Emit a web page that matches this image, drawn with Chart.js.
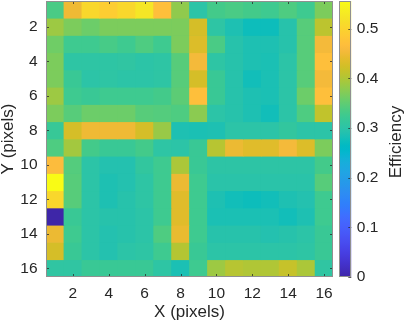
<!DOCTYPE html>
<html><head><meta charset="utf-8">
<script src="https://cdn.jsdelivr.net/npm/chart.js@4/dist/chart.umd.min.js"></script>
<style>
html,body{margin:0;padding:0;background:#fff;}
#wrap{position:relative;width:407px;height:324px;overflow:hidden;}
#main{position:absolute;left:0;top:0;}
#cbar{position:absolute;left:334px;top:0;}
</style></head><body>
<div id="wrap"><canvas id="main" width="407" height="324"></canvas><canvas id="cbar" width="73" height="324"></canvas></div>
<script>
// ---- data ----
const xLabels = ['1','2','3','4','5','6','7','8','9','10','11','12','13','14','15','16'];
const xTicks = [2,4,6,8,10,12,14,16];
const yTicks = [2,4,6,8,10,12,14,16];
const cbTicks = [0,0.1,0.2,0.3,0.4,0.5];
const cMin = 0, cMax = 0.556;

const row01 = [0.335,0.450,0.505,0.490,0.505,0.525,0.470,0.380,0.300,0.330,0.335,0.330,0.325,0.338,0.325,0.368];
const row02 = [0.388,0.368,0.358,0.368,0.368,0.368,0.368,0.368,0.427,0.304,0.287,0.275,0.275,0.295,0.344,0.408];
const row03 = [0.360,0.325,0.325,0.333,0.325,0.338,0.325,0.368,0.432,0.335,0.295,0.287,0.287,0.295,0.344,0.455];
const row04 = [0.368,0.304,0.304,0.304,0.306,0.300,0.304,0.344,0.455,0.304,0.295,0.287,0.284,0.300,0.344,0.470];
const row05 = [0.368,0.320,0.300,0.304,0.300,0.300,0.304,0.344,0.427,0.320,0.295,0.278,0.284,0.300,0.344,0.455];
const row06 = [0.388,0.325,0.320,0.325,0.325,0.325,0.330,0.348,0.470,0.320,0.295,0.287,0.284,0.300,0.358,0.470];
const row07 = [0.368,0.344,0.358,0.358,0.358,0.344,0.342,0.338,0.377,0.300,0.295,0.287,0.278,0.300,0.338,0.412];
const row08 = [0.318,0.427,0.450,0.450,0.450,0.427,0.385,0.287,0.284,0.287,0.300,0.300,0.300,0.310,0.300,0.300];
const row09 = [0.338,0.392,0.330,0.320,0.320,0.330,0.304,0.300,0.320,0.405,0.447,0.436,0.436,0.455,0.432,0.368];
const row10 = [0.465,0.342,0.300,0.291,0.291,0.310,0.325,0.397,0.320,0.302,0.302,0.302,0.302,0.302,0.302,0.330];
const row11 = [0.556,0.344,0.300,0.287,0.291,0.304,0.325,0.447,0.325,0.298,0.298,0.298,0.298,0.298,0.298,0.344];
const row12 = [0.505,0.344,0.300,0.287,0.295,0.304,0.325,0.436,0.325,0.287,0.278,0.275,0.278,0.287,0.291,0.325];
const row13 = [0.000,0.320,0.300,0.295,0.295,0.300,0.325,0.436,0.325,0.284,0.284,0.284,0.284,0.278,0.287,0.325];
const row14 = [0.447,0.325,0.300,0.291,0.295,0.300,0.338,0.444,0.325,0.295,0.295,0.295,0.291,0.295,0.300,0.320];
const row15 = [0.427,0.320,0.300,0.291,0.300,0.304,0.325,0.403,0.320,0.300,0.300,0.300,0.300,0.300,0.304,0.320];
const row16 = [0.306,0.306,0.320,0.320,0.320,0.320,0.304,0.284,0.325,0.388,0.405,0.400,0.400,0.415,0.397,0.306];
const rows = [row01,row02,row03,row04,row05,row06,row07,row08,row09,row10,row11,row12,row13,row14,row15,row16];

// ---- parula colormap (64) ----
const PARULA = [[0.2422,0.1504,0.6603],[0.2504,0.1650,0.7076],[0.2578,0.1818,0.7511],[0.2647,0.1978,0.7952],[0.2706,0.2147,0.8364],[0.2751,0.2342,0.8710],[0.2783,0.2559,0.8991],[0.2803,0.2782,0.9221],[0.2813,0.3006,0.9414],[0.2810,0.3228,0.9579],[0.2795,0.3447,0.9717],[0.2760,0.3667,0.9829],[0.2699,0.3892,0.9906],[0.2602,0.4123,0.9952],[0.2440,0.4358,0.9988],[0.2206,0.4603,0.9973],[0.1963,0.4847,0.9892],[0.1834,0.5074,0.9798],[0.1786,0.5289,0.9682],[0.1764,0.5499,0.9520],[0.1687,0.5703,0.9359],[0.1540,0.5902,0.9218],[0.1460,0.6091,0.9079],[0.1380,0.6276,0.8973],[0.1248,0.6459,0.8883],[0.1113,0.6635,0.8763],[0.0952,0.6798,0.8598],[0.0689,0.6948,0.8394],[0.0297,0.7082,0.8163],[0.0036,0.7203,0.7917],[0.0067,0.7312,0.7660],[0.0433,0.7411,0.7394],[0.0964,0.7500,0.7120],[0.1408,0.7584,0.6842],[0.1717,0.7670,0.6554],[0.1938,0.7758,0.6251],[0.2161,0.7843,0.5923],[0.2470,0.7918,0.5567],[0.2906,0.7973,0.5188],[0.3406,0.8008,0.4789],[0.3909,0.8029,0.4354],[0.4456,0.8024,0.3909],[0.5044,0.7993,0.3480],[0.5616,0.7942,0.3045],[0.6174,0.7876,0.2612],[0.6720,0.7793,0.2227],[0.7242,0.7698,0.1910],[0.7738,0.7598,0.1646],[0.8203,0.7498,0.1535],[0.8634,0.7406,0.1596],[0.9035,0.7330,0.1774],[0.9393,0.7288,0.2100],[0.9728,0.7298,0.2394],[0.9956,0.7434,0.2371],[0.9970,0.7659,0.2199],[0.9952,0.7893,0.2028],[0.9892,0.8136,0.1885],[0.9786,0.8386,0.1766],[0.9676,0.8639,0.1643],[0.9610,0.8890,0.1537],[0.9597,0.9135,0.1423],[0.9628,0.9373,0.1265],[0.9691,0.9606,0.1064],[0.9769,0.9839,0.0805]];
function cssColor(c){return 'rgb('+Math.round(c[0]*255)+','+Math.round(c[1]*255)+','+Math.round(c[2]*255)+')';}
function parula(v){
  let t=(v-cMin)/(cMax-cMin); t=Math.max(0,Math.min(1,t));
  const p=t*(PARULA.length-1); const i=Math.min(PARULA.length-2,Math.floor(p)); const f=p-i;
  const a=PARULA[i], b=PARULA[i+1];
  return cssColor([a[0]+(b[0]-a[0])*f,a[1]+(b[1]-a[1])*f,a[2]+(b[2]-a[2])*f]);
}

Chart.defaults.font.family = "'Liberation Sans', Arial, Helvetica, sans-serif";
Chart.defaults.color = '#262626';

const datasets = rows.map((row, j) => ({
  data: row.map(() => [j + 0.5, j + 1.5]),
  backgroundColor: row.map(v => parula(v)),
  borderWidth: 0,
  barPercentage: 1,
  categoryPercentage: 1,
  grouped: false
}));

function zeroPad(s){ s.paddingTop = 0; s.paddingBottom = 0; s.paddingLeft = 0; s.paddingRight = 0; }

const axisDeco = {
  id: 'axisDeco',
  beforeDatasetsDraw(chart){
    const {ctx, chartArea:a} = chart;
    ctx.save(); ctx.fillStyle = parula(0.3); ctx.fillRect(a.left,a.top,a.right-a.left,a.bottom-a.top); ctx.restore();
  },
  afterDatasetsDraw(chart){
    const {ctx, chartArea:a, scales} = chart;
    const xs = scales.x, ys = scales.y;
    ctx.save();
    ctx.strokeStyle = 'rgba(38,38,38,0.75)'; ctx.lineWidth = 1;
    const L = 3;
    ctx.beginPath();
    xTicks.forEach(t => {
      const px = Math.round(xs.getPixelForValue(xLabels.indexOf(String(t)))) + 0.5;
      ctx.moveTo(px, a.bottom); ctx.lineTo(px, a.bottom - L);
      ctx.moveTo(px, a.top); ctx.lineTo(px, a.top + L);
    });
    yTicks.forEach(t => {
      const py = Math.round(ys.getPixelForValue(t)) + 0.5;
      ctx.moveTo(a.left, py); ctx.lineTo(a.left + L, py);
      ctx.moveTo(a.right, py); ctx.lineTo(a.right - L, py);
    });
    ctx.stroke();
    ctx.strokeStyle = '#909090';
    ctx.strokeRect(Math.round(a.left)+0.5, Math.round(a.top)+0.5, Math.round(a.right-a.left)-1, Math.round(a.bottom-a.top)-1);
    ctx.restore();
  }
};

new Chart(document.getElementById('main'), {
  type: 'bar',
  data: { labels: xLabels, datasets },
  options: {
    responsive: false, animation: false,
    layout: { padding: { top: 1, right: 74, left: 0, bottom: 0 } },
    plugins: { legend: { display: false }, tooltip: { enabled: false } },
    scales: {
      x: {
        type: 'category', offset: true,
        grid: { display: false, drawTicks: false }, border: { display: false },
        ticks: { autoSkip: false, maxRotation: 0, padding: 7, font: { size: 15.5 },
          callback: (v, i) => xTicks.includes(i + 1) ? xLabels[i] : '' },
        title: { display: true, text: 'X (pixels)', font: { size: 17, lineHeight: 1.2 }, padding: { top: 0, bottom: 1 } },
        afterFit: s => { s.height = 47; zeroPad(s); }
      },
      y: {
        type: 'linear', reverse: true, min: 0.5, max: 16.5,
        grid: { display: false, drawTicks: false }, border: { display: false },
        afterBuildTicks: s => { s.ticks = yTicks.map(v => ({ value: v })); },
        ticks: { padding: 8.5, font: { size: 15.5 }, callback: v => String(v) },
        title: { display: true, text: 'Y (pixels)', font: { size: 17, lineHeight: 0.95 }, padding: 0 },
        afterFit: s => { s.width = 46; zeroPad(s); }
      }
    }
  },
  plugins: [axisDeco]
});

// ---- colorbar ----
const cbDeco = {
  id: 'cbDeco',
  afterDatasetsDraw(chart){
    const {ctx, chartArea:a, scales} = chart;
    ctx.save();
    ctx.strokeStyle = 'rgba(38,38,38,0.75)'; ctx.lineWidth = 1;
    ctx.beginPath();
    cbTicks.forEach(t => {
      const py = Math.round(scales.y.getPixelForValue(t)) + 0.5;
      ctx.moveTo(a.right, py); ctx.lineTo(a.right - 3, py);
    });
    ctx.stroke();
    ctx.strokeStyle = '#909090';
    ctx.strokeRect(Math.round(a.left)+0.5, Math.round(a.top)+0.5, Math.round(a.right-a.left)-1, Math.round(a.bottom-a.top)-1);
    ctx.fillStyle = '#262626';
    ctx.font = "17px 'Liberation Sans', Arial, sans-serif";
    ctx.textAlign = 'center'; ctx.textBaseline = 'middle';
    ctx.translate(62, (a.top + a.bottom) / 2 + 3);
    ctx.rotate(-Math.PI / 2);
    ctx.fillText('Efficiency', 0, 0);
    ctx.restore();
  }
};

new Chart(document.getElementById('cbar'), {
  type: 'bar',
  data: { labels: [''], datasets: [{
    data: [[cMin, cMax]],
    borderWidth: 0, barPercentage: 1, categoryPercentage: 1,
    backgroundColor: (ctx) => {
      const ch = ctx.chart; const a = ch.chartArea;
      if (!a) return parula(0.3);
      const g = ch.ctx.createLinearGradient(0, a.bottom, 0, a.top);
      PARULA.forEach((c, i) => g.addColorStop(i / (PARULA.length - 1), cssColor(c)));
      return g;
    }
  }] },
  options: {
    responsive: false, animation: false,
    layout: { padding: { top: 1, right: 0, left: 5, bottom: 47 } },
    plugins: { legend: { display: false }, tooltip: { enabled: false } },
    scales: {
      x: { display: false },
      y: {
        position: 'right', min: cMin, max: cMax,
        grid: { display: false, drawTicks: false }, border: { display: false },
        afterBuildTicks: s => { s.ticks = cbTicks.map(v => ({ value: v })); },
        ticks: { padding: 5.5, font: { size: 15.5 }, callback: v => String(v) },
        afterFit: s => { s.width = 55.7; zeroPad(s); }
      }
    }
  },
  plugins: [cbDeco]
});
</script>
</body></html>
